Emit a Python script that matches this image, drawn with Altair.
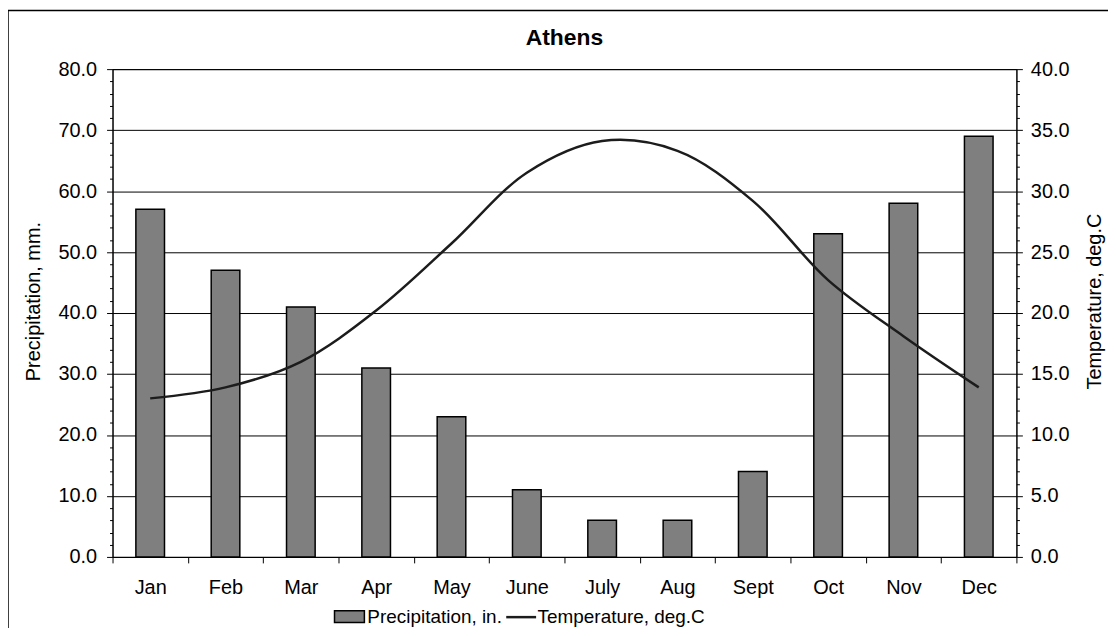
import altair as alt
import pandas as pd

months = ["Jan", "Feb", "Mar", "Apr", "May", "June", "July", "Aug", "Sept", "Oct", "Nov", "Dec"]
precip = [57, 47, 41, 31, 23, 11, 6, 6, 14, 53, 58, 69]
temp = [13.0, 13.9, 16.0, 20.2, 25.7, 31.5, 34.1, 33.3, 29.2, 22.7, 18.1, 13.9]
left_ticks = list(range(0, 81, 2))
right_ticks = list(range(0, 41, 1))

df = pd.DataFrame({"month": months, "precip": precip, "temp": temp})

FONT = "Liberation Sans"

x_enc = alt.X(
    "month:N",
    sort=months,
    scale=alt.Scale(paddingInner=0, paddingOuter=0),
    axis=alt.Axis(
        title=None, tickBand="extent", labelAngle=0, tickSize=6, labelPadding=15,
        grid=False, labelFontSize=20, labelColor="black", tickColor="black",
        domainColor="black", labelFont=FONT,
    ),
)

frame = alt.Chart(pd.DataFrame({"k": [0]})).mark_rect(
    fill="transparent", stroke="black", strokeWidth=1.5
).encode(
    x=alt.value(-105), x2=alt.value(1300), y=alt.value(-59), y2=alt.value(900)
)

bars = alt.Chart(df).transform_calculate(
    series="'Precipitation, in.'"
).mark_bar(
    stroke="black", strokeWidth=1.5, width=alt.RelativeBandSize(0.38)
).encode(
    x=x_enc,
    y=alt.Y(
        "precip:Q",
        scale=alt.Scale(domain=[0, 80], nice=False),
        axis=alt.Axis(
            title="Precipitation, mm.", orient="left", values=left_ticks,
            labelExpr="datum.value % 10 === 0 ? format(datum.value, '.1f') : ''",
            tickSize={"condition": {"test": "datum.value % 10 === 0", "value": 6}, "value": 3},
            grid=True, gridColor="black", gridWidth=1,
            gridOpacity={"condition": {"test": "datum.value % 10 === 0", "value": 1}, "value": 0},
            labelPadding=10, labelFontSize=20, labelColor="black", labelFont=FONT,
            tickColor="black", domainColor="black",
            titleFont=FONT, titleFontSize=20, titleFontWeight="normal", titleColor="black",
            titleAngle=270, titleX=-79, titleY=233, titleAlign="center", titleBaseline="middle",
        ),
    ),
    fill=alt.Fill(
        "series:N",
        scale=alt.Scale(range=["#7f7f7f"]),
        legend=alt.Legend(
            orient="none", legendX=222, legendY=534, title=None,
            symbolType="M-1,-0.4L1,-0.4L1,0.4L-1,0.4Z", symbolSize=900,
            symbolStrokeColor="black", symbolStrokeWidth=1.5, symbolOpacity=1,
            labelFontSize=19, labelFont=FONT, labelColor="black", labelOffset=2,
            labelLimit=400,
        ),
    ),
)

line = alt.Chart(df).transform_calculate(
    series2="'Temperature, deg.C'"
).mark_line(
    interpolate="catmull-rom", strokeWidth=2.5
).encode(
    x=x_enc,
    y=alt.Y(
        "temp:Q",
        scale=alt.Scale(domain=[0, 40], nice=False),
        axis=alt.Axis(
            title="Temperature, deg.C", orient="right", values=right_ticks,
            labelExpr="datum.value % 5 === 0 ? format(datum.value, '.1f') : ''",
            tickSize={"condition": {"test": "datum.value % 5 === 0", "value": 6}, "value": 3},
            grid=False,
            labelPadding=8, labelFontSize=20, labelColor="black", labelFont=FONT,
            tickColor="black", domainColor="black",
            titleFont=FONT, titleFontSize=20, titleFontWeight="normal", titleColor="black",
            titleAngle=270, titleX=78, titleY=233, titleAlign="center", titleBaseline="middle",
        ),
    ),
    stroke=alt.Stroke(
        "series2:N",
        scale=alt.Scale(range=["#1c1c1c"]),
        legend=alt.Legend(
            orient="none", legendX=394, legendY=534, title=None,
            symbolType="stroke", symbolSize=900, symbolStrokeWidth=2.5,
            labelFontSize=19, labelFont=FONT, labelColor="black", labelOffset=0,
            labelLimit=400,
        ),
    ),
)

chart = alt.layer(frame, bars, line).resolve_scale(
    y="independent"
).properties(
    width=908,
    height=490,
    padding={"left": 105, "top": 60, "right": 92, "bottom": 70},
    autosize=alt.AutoSizeParams(type="none"),
    title=alt.TitleParams(
        "Athens", fontSize=23, fontWeight="bold", font=FONT, anchor="middle",
        frame="group", offset=0, dy=59, baseline="alphabetic", color="black",
    ),
).configure_view(
    stroke="black", strokeWidth=1
)

chart.save("out.html", embed_options={"renderer": "svg", "actions": False})
